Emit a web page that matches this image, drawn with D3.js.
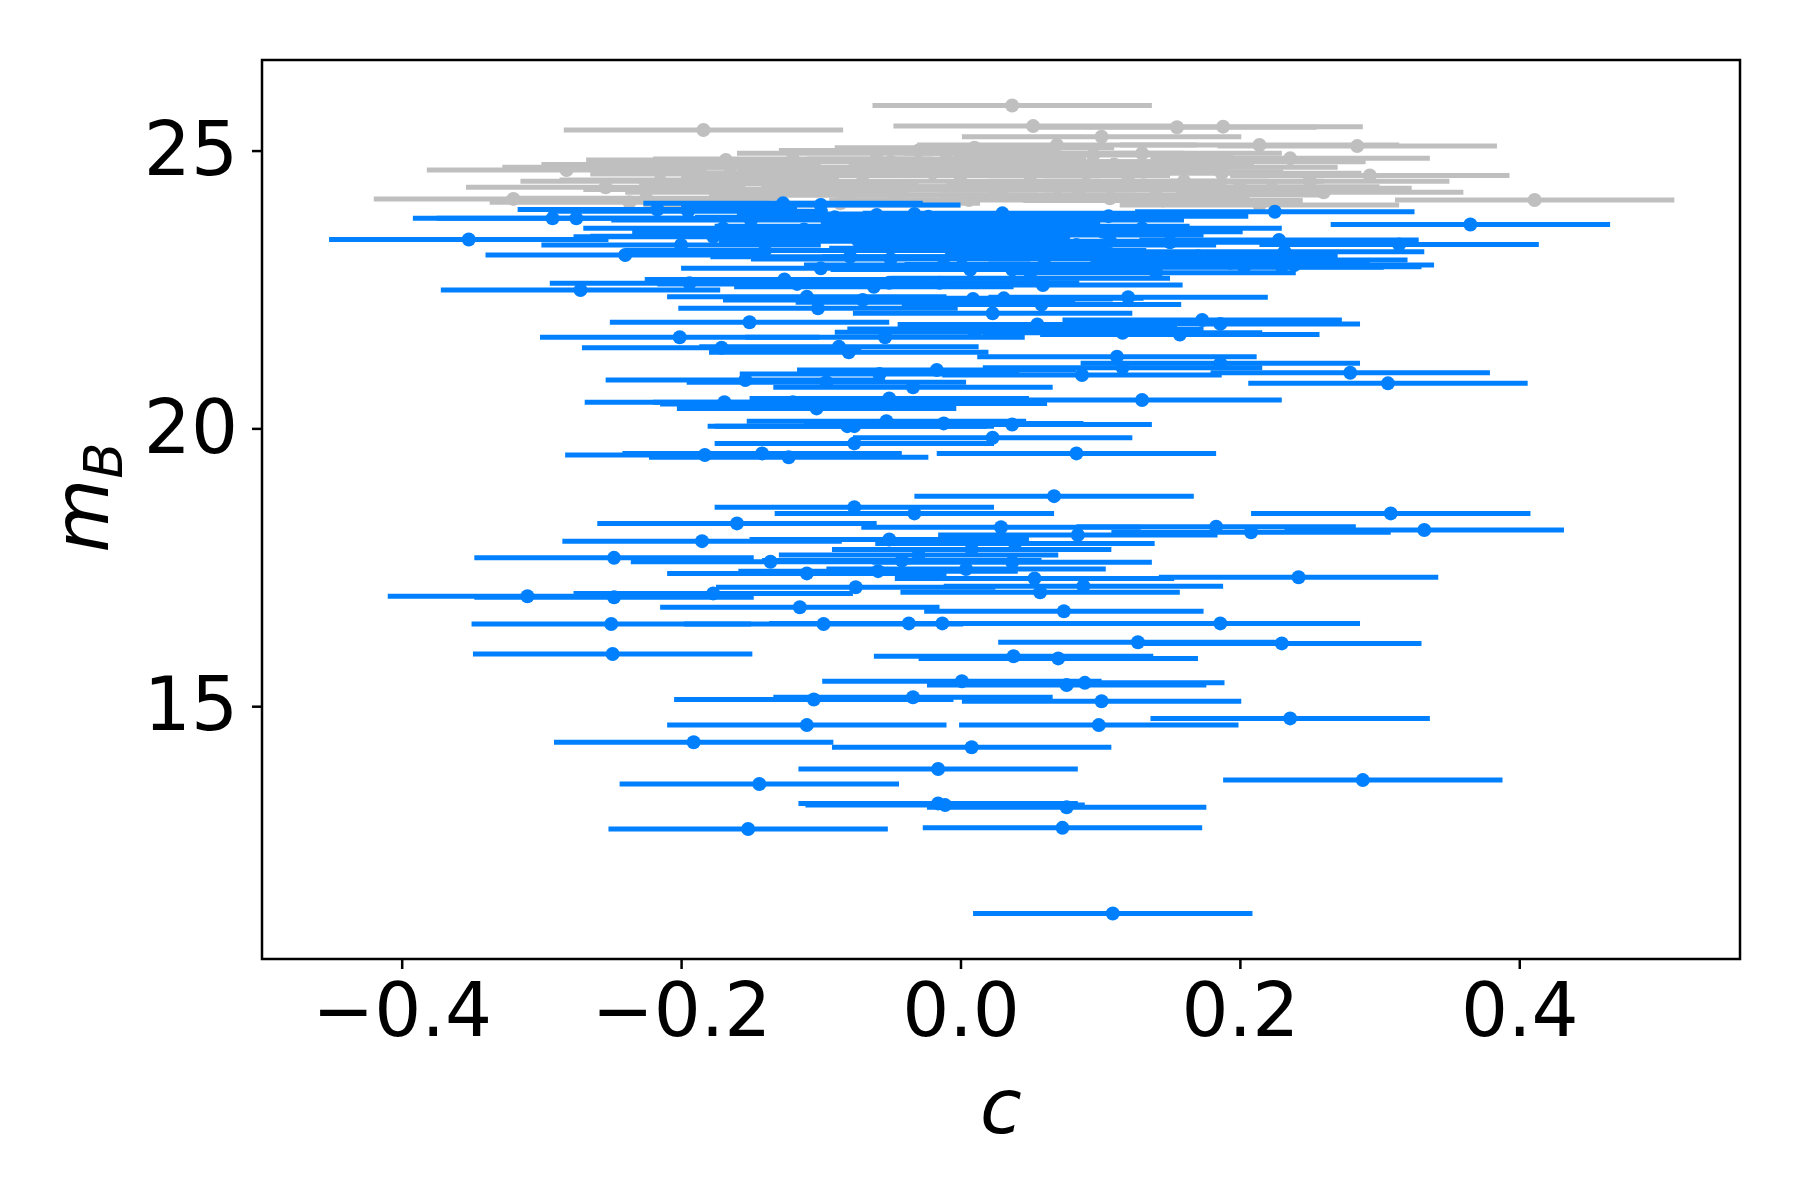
<!DOCTYPE html>
<html>
<head>
<meta charset="utf-8">
<script src="https://cdn.jsdelivr.net/npm/d3@7"></script>
<style>
  body { margin: 0; background: #fff; }
  text { font-family: "DejaVu Sans", sans-serif; }
</style>
</head>
<body>
<svg id="chart" width="1800" height="1200"></svg>
<script>
// grey sample (high m_B)
const greyC = [0.037, -0.184, 0.052, 0.155, 0.188, 0.101, 0.069, 0.284, 0.214, 0.236,
  0.078, 0.095, 0.086, -0.168, 0.131, 0.187, 0.293, 0.107, 0.159, 0.214,
  0.223, -0.225, -0.187, -0.100, -0.086, 0.006, -0.282, -0.254, -0.237, -0.320,
  0.411, -0.127, -0.228, -0.165, -0.150, -0.130, -0.110, -0.090, -0.070, -0.050,
  -0.040, -0.020, 0.000, 0.020, 0.030, 0.050, 0.060, 0.120, 0.140, 0.170,
  -0.060, -0.120, -0.030, 0.010, -0.080, 0.090,
  -0.200, -0.140, -0.100, -0.060, -0.010, 0.040, 0.070, 0.110, 0.130, 0.160,
  0.190, 0.200, -0.170, 0.025, -0.045, 0.085, 0.145, 0.250, 0.260, -0.215];
const greyM = [25.81, 25.37, 25.44, 25.42, 25.43, 25.25, 25.10, 25.08, 25.10, 24.86,
  24.80, 24.92, 24.68, 24.83, 24.62, 24.59, 24.55, 24.14, 24.20, 24.02,
  24.32, 24.14, 24.47, 24.02, 24.05, 24.11, 24.65, 24.34, 24.07, 24.13,
  24.11, 24.03, 24.70, 24.58, 24.60, 24.40, 24.70, 24.30, 24.55, 24.80,
  24.35, 24.60, 24.45, 24.75, 24.30, 24.55, 24.95, 24.45, 24.30, 24.70,
  24.95, 24.85, 25.00, 25.05, 24.20, 24.40,
  24.75, 24.25, 24.55, 24.65, 24.85, 24.65, 24.35, 24.75, 24.95, 24.45,
  24.80, 24.35, 24.30, 24.20, 24.20, 24.20, 24.10, 24.45, 24.25, 24.45];
const greyErr = 0.1;

// blue sample
const blueC = [-0.217, -0.195, -0.127, -0.100, -0.060, -0.033, -0.023, -0.016, 0.030, 0.106, 0.225,
  -0.170, -0.177, -0.165, -0.135, -0.112, -0.076, -0.064, -0.073, -0.040, -0.029, -0.079, -0.100,
  0.006, 0.001, -0.012, 0.007, 0.028, 0.026, 0.033, 0.042, 0.037, 0.060, 0.064, 0.074, 0.083,
  0.089, 0.102, 0.107, 0.228, 0.232, 0.193, 0.203, 0.220, 0.230, 0.239,
  -0.194, -0.126, -0.117, -0.062, -0.051, -0.015, 0.050, 0.059,
  -0.292, -0.275, -0.352, -0.240, 0.365, 0.314, -0.272,
  -0.150, -0.090, 0.000, 0.130, 0.150, 0.170, -0.050, 0.120, -0.140, -0.200, 0.060, 0.140,
  -0.151, -0.201, -0.171, -0.154, -0.169, -0.183, -0.142,
  -0.110, -0.102, -0.070, -0.018, 0.009, 0.031, 0.023, 0.058, 0.120, -0.087, -0.080, -0.054,
  0.010, 0.019, 0.055, 0.074, 0.116, 0.157, 0.173, 0.186, 0.112, 0.116, 0.186, -0.096, -0.058,
  -0.017, 0.087, 0.130, -0.120, -0.115, -0.103, -0.051, -0.034, -0.038, -0.081, -0.076, -0.053,
  -0.012, 0.037, -0.076, 0.023, -0.123, 0.083, 0.067,
  0.279, 0.306,
  -0.076, -0.033, -0.160, 0.029, -0.185, -0.051, 0.008, -0.248, -0.136, -0.042, -0.030, 0.037,
  -0.110, -0.059, 0.004, -0.310, -0.248, -0.177, -0.075, -0.115, -0.250, -0.098, -0.037, -0.013,
  -0.249, 0.001, -0.105, -0.034, -0.110,
  0.308, 0.183, 0.208, 0.332, 0.084, 0.039, 0.053, 0.088, 0.057, 0.242, 0.074, 0.186, 0.127,
  0.230, 0.038, 0.070, 0.076, 0.089, 0.101, 0.236, 0.099,
  -0.191, 0.008, -0.016, -0.144, -0.016, -0.011, -0.152,
  0.288, 0.076, 0.073, 0.109];
const blueM = [23.94, 23.91, 24.05, 24.02, 23.84, 23.86, 23.81, 23.76, 23.87, 23.82, 23.90,
  23.60, 23.45, 23.46, 23.54, 23.58, 23.64, 23.48, 23.37, 23.57, 23.44, 23.09, 22.88,
  23.24, 23.09, 22.94, 22.86, 23.51, 23.32, 23.20, 23.57, 22.86, 23.75, 23.64, 23.48, 23.30,
  23.15, 23.54, 23.37, 23.39, 23.18, 22.98, 22.90, 23.03, 22.91, 22.94,
  22.61, 22.68, 22.60, 22.55, 22.62, 22.62, 22.70, 22.58,
  23.78, 23.78, 23.40, 23.12, 23.67, 23.31, 22.49,
  23.75, 23.80, 23.70, 23.60, 23.35, 23.10, 23.05, 23.05, 23.20, 23.30, 22.95, 22.80,
  21.91, 21.64, 21.45, 20.87, 20.47, 19.52, 19.55,
  22.37, 22.16, 22.31, 22.27, 22.33, 22.34, 22.07, 22.23, 22.36, 21.47, 21.37, 21.64,
  21.73, 21.79, 21.87, 21.78, 21.72, 21.69, 21.95, 21.88, 21.29, 21.09, 21.17, 20.83, 20.98,
  21.05, 20.96, 20.51, 20.47, 20.44, 20.36, 20.54, 20.74, 20.45, 20.04, 20.04, 20.13,
  20.09, 20.07, 19.73, 19.83, 19.48, 19.55, 18.78,
  21.00, 20.81,
  18.58, 18.47, 18.29, 18.22, 17.97, 18.00, 17.82, 17.67, 17.60, 17.62, 17.72, 17.59,
  17.39, 17.43, 17.47, 16.98, 16.96, 17.03, 17.14, 16.78, 16.48, 16.48, 16.49, 16.49,
  15.94, 15.45, 15.12, 15.16, 14.66,
  18.47, 18.23, 18.13, 18.17, 18.08, 17.93, 17.30, 17.16, 17.05, 17.32, 16.71, 16.49, 16.15,
  16.13, 15.90, 15.86, 15.38, 15.42, 15.09, 14.78, 14.66,
  14.35, 14.26, 13.87, 13.60, 13.25, 13.22, 12.79,
  13.67, 13.18, 12.81, 11.27];
const blueErr = 0.1;

const xTicks = [-0.4, -0.2, 0.0, 0.2, 0.4];
const yTicks = [15, 20, 25];

const svg = d3.select("#chart");
svg.append("rect").attr("width", 1800).attr("height", 1200).attr("fill", "#fff");

const plotLeft = 262, plotRight = 1740, plotTop = 60, plotBottom = 959;
const x = d3.scaleLinear().domain([-0.5, 0.558]).range([plotLeft, plotRight]);
const y = d3.scaleLinear().domain([10.45, 26.63]).range([plotBottom, plotTop]);

const plot = svg.append("g");

// draw one series: bars first, then markers on top
function drawSeries(cs, ms, err, color) {
  const pts = cs.map((c, i) => ({ c: c, m: ms[i] }));
  const g = plot.append("g");
  g.selectAll("line")
    .data(pts)
    .join("line")
    .attr("x1", d => x(d.c - err))
    .attr("x2", d => x(d.c + err))
    .attr("y1", d => y(d.m))
    .attr("y2", d => y(d.m))
    .attr("stroke", color)
    .attr("stroke-width", 5);
  g.selectAll("circle")
    .data(pts)
    .join("circle")
    .attr("cx", d => x(d.c))
    .attr("cy", d => y(d.m))
    .attr("r", 7)
    .attr("fill", color);
}

drawSeries(greyC, greyM, greyErr, "#bfbfbf");
drawSeries(blueC, blueM, blueErr, "#0080ff");

// axes
const xAxis = svg.append("g")
  .attr("transform", `translate(0,${plotBottom})`)
  .call(d3.axisBottom(x).tickValues(xTicks).tickFormat(d3.format(".1f")).tickSize(10).tickPadding(14).tickSizeOuter(0));
const yAxis = svg.append("g")
  .attr("transform", `translate(${plotLeft},0)`)
  .call(d3.axisLeft(y).tickValues(yTicks).tickFormat(d3.format("d")).tickSize(10).tickPadding(14).tickSizeOuter(0));

[xAxis, yAxis].forEach(a => {
  a.select(".domain").remove();
  a.selectAll("line").attr("stroke", "#000").attr("stroke-width", 2.5);
  a.selectAll("text").attr("fill", "#000").style("font-size", "74px")
    .style("font-family", "'DejaVu Sans', sans-serif");
});

// frame
svg.append("rect")
  .attr("x", plotLeft).attr("y", plotTop)
  .attr("width", plotRight - plotLeft).attr("height", plotBottom - plotTop)
  .attr("fill", "none").attr("stroke", "#000").attr("stroke-width", 2.5);

// axis labels
svg.append("text")
  .attr("x", (plotLeft + plotRight) / 2)
  .attr("y", 1133)
  .attr("text-anchor", "middle")
  .style("font-size", "76px")
  .style("font-style", "italic")
  .text("c");

const yl = svg.append("text")
  .attr("transform", `translate(108,${(plotTop + plotBottom) / 2 - 12}) rotate(-90)`)
  .attr("text-anchor", "middle")
  .style("font-size", "76px")
  .style("font-style", "italic");
yl.append("tspan").text("m");
yl.append("tspan").attr("dy", 14).style("font-size", "53px").text("B");
</script>
</body>
</html>
